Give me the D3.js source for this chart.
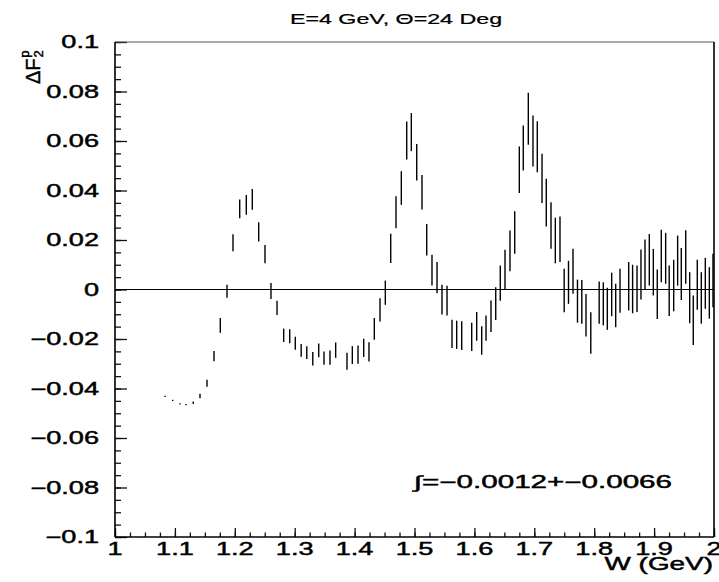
<!DOCTYPE html>
<html>
<head>
<meta charset="utf-8">
<script src="https://cdn.jsdelivr.net/npm/d3@7"></script>
<style>
  html, body { margin: 0; padding: 0; background: #fff; }
  svg { display: block; }
  text { font-family: "Liberation Sans", Arial, Helvetica, sans-serif; fill: #000; stroke: #000; stroke-width: 0.45px; }
</style>
</head>
<body>
<svg id="chart" width="719" height="582"></svg>
<script>
// ---------------- data ----------------
const W = [
  1.0835, 1.0963, 1.1085, 1.1185, 1.1307, 1.1419, 1.1536, 1.1653, 1.1758, 1.1870,
  1.1970, 1.2082, 1.2192, 1.2292, 1.2399, 1.2504, 1.2604, 1.2705, 1.2816, 1.2917,
  1.3010, 1.3108, 1.3202, 1.3302, 1.3401, 1.3489, 1.3589, 1.3684, 1.3873, 1.3962,
  1.4057, 1.4152, 1.4240, 1.4329, 1.4424, 1.4513, 1.4603, 1.4691, 1.4780, 1.4870,
  1.4947, 1.5037, 1.5125, 1.5204, 1.5292, 1.5376, 1.5459, 1.5543, 1.5626, 1.5704,
  1.5788, 1.5955, 1.6038, 1.6122, 1.6194, 1.6277, 1.6356, 1.6432, 1.6511, 1.6594,
  1.6673, 1.6750, 1.6816, 1.6900, 1.6978, 1.7050, 1.7129, 1.7200, 1.7279, 1.7351,
  1.7429, 1.7499, 1.7571, 1.7646, 1.7721, 1.7793, 1.7863, 1.7943, 1.8083, 1.8152,
  1.8219, 1.8292, 1.8359, 1.8431, 1.8576, 1.8641, 1.8715, 1.8781, 1.8848, 1.8920,
  1.8987, 1.9053, 1.9120, 1.9193, 1.9252, 1.9327, 1.9393, 1.9454, 1.9528, 1.9594,
  1.9654, 1.9721, 1.9788, 1.9855, 1.9922, 1.9983
];
const dF2 = [
  -0.0432, -0.0448, -0.0462, -0.0465, -0.0458, -0.0430, -0.0379, -0.0269, -0.0145, -0.0007,
   0.0189,  0.0326,  0.0342,  0.0364,  0.0233,  0.0143, -0.0006, -0.0074, -0.0185, -0.0189,
  -0.0217, -0.0246, -0.0255, -0.0280, -0.0246, -0.0277, -0.0275, -0.0245, -0.0290, -0.0265,
  -0.0263, -0.0236, -0.0252, -0.0159, -0.0082, -0.0013,  0.0166,  0.0312,  0.0410,  0.0602,
   0.0636,  0.0514,  0.0393,  0.0201,  0.0078,  0.0048, -0.0041, -0.0045, -0.0179, -0.0183,
  -0.0186, -0.0191, -0.0149, -0.0206, -0.0156, -0.0108, -0.0057,  0.0026,  0.0080,  0.0156,
   0.0230,  0.0484,  0.0572,  0.0690,  0.0600,  0.0577,  0.0449,  0.0351,  0.0259,  0.0198,
   0.0203, -0.0004,  0.0029,  0.0074, -0.0047, -0.0050, -0.0104, -0.0176, -0.0053, -0.0058,
  -0.0078, -0.0020, -0.0065, -0.0005,  0.0013,  0.0002,  0.0003,  0.0061,  0.0100,  0.0120,
   0.0070, -0.0019,  0.0135,  0.0126, -0.0005,  0.0016,  0.0117,  0.0063,  0.0131, -0.0033,
  -0.0124,  0.0019, -0.0034,  0.0025, -0.0014,  0.0036
];
const dF2err = [
  0.0002, 0.0002, 0.0002, 0.0002, 0.0005, 0.0009, 0.0014, 0.0021, 0.0030, 0.0026,
  0.0034, 0.0038, 0.0040, 0.0042, 0.0039, 0.0037, 0.0032, 0.0029, 0.0027, 0.0028,
  0.0026, 0.0026, 0.0026, 0.0027, 0.0028, 0.0027, 0.0029, 0.0031, 0.0034, 0.0036,
  0.0037, 0.0037, 0.0039, 0.0044, 0.0047, 0.0049, 0.0059, 0.0065, 0.0068, 0.0077,
  0.0077, 0.0074, 0.0070, 0.0064, 0.0062, 0.0063, 0.0060, 0.0060, 0.0057, 0.0057,
  0.0058, 0.0057, 0.0058, 0.0058, 0.0051, 0.0064, 0.0066, 0.0071, 0.0081, 0.0082,
  0.0086, 0.0094, 0.0091, 0.0105, 0.0103, 0.0103, 0.0099, 0.0096, 0.0094, 0.0092,
  0.0092, 0.0088, 0.0087, 0.0091, 0.0087, 0.0088, 0.0086, 0.0084, 0.0085, 0.0087,
  0.0085, 0.0088, 0.0088, 0.0089, 0.0098, 0.0098, 0.0094, 0.0101, 0.0102, 0.0104,
  0.0094, 0.0100, 0.0106, 0.0103, 0.0102, 0.0104, 0.0101, 0.0105, 0.0108, 0.0103,
  0.0100, 0.0101, 0.0104, 0.0103, 0.0104, 0.0108
];
const xMajorTicks = [1, 1.1, 1.2, 1.3, 1.4, 1.5, 1.6, 1.7, 1.8, 1.9, 2];
const xTickLabels = ["1", "1.1", "1.2", "1.3", "1.4", "1.5", "1.6", "1.7", "1.8", "1.9", "2"];
const yMajorTicks = [0.1, 0.08, 0.06, 0.04, 0.02, 0, -0.02, -0.04, -0.06, -0.08, -0.1];
const yTickLabels = ["0.1", "0.08", "0.06", "0.04", "0.02", "0", "\u22120.02", "\u22120.04", "\u22120.06", "\u22120.08", "\u22120.1"];
const titleText = "E=4 GeV, \u0398=24 Deg";
const xLabelText = "W (GeV)";
const integralText = "\u222B=\u22120.0012+\u22120.0066";

// ---------------- layout ----------------
const pLeft = 115, pRight = 714, pTop = 42, pBottom = 537;
const SX = 1.55; // wide PAW-like lettering
const svg = d3.select("#chart");

const x = d3.scaleLinear().domain([1, 2]).range([pLeft, pRight]);
const y = d3.scaleLinear().domain([-0.1, 0.1]).range([pBottom, pTop]);

function wideText(str, px, py, size, anchor) {
  return svg.append("text")
    .attr("transform", `translate(${px},${py}) scale(${SX},1)`)
    .attr("text-anchor", anchor)
    .attr("font-size", size)
    .text(str);
}

// minor / major ticks (inside the frame)
const xMinor = d3.range(0, 41).map(i => 1 + i * 0.025);
const yMinor = d3.range(0, 41).map(i => -0.1 + i * 0.005);

const gxMin = svg.append("g").attr("transform", `translate(0,${pBottom})`)
  .call(d3.axisBottom(x).tickValues(xMinor).tickSizeInner(-4.5).tickSizeOuter(0).tickFormat(""));
const gxMaj = svg.append("g").attr("transform", `translate(0,${pBottom})`)
  .call(d3.axisBottom(x).tickValues(xMajorTicks).tickSizeInner(-9).tickSizeOuter(0).tickFormat(""));
const gyMin = svg.append("g").attr("transform", `translate(${pLeft},0)`)
  .call(d3.axisLeft(y).tickValues(yMinor).tickSizeInner(-6).tickSizeOuter(0).tickFormat(""));
const gyMaj = svg.append("g").attr("transform", `translate(${pLeft},0)`)
  .call(d3.axisLeft(y).tickValues(yMajorTicks).tickSizeInner(-12).tickSizeOuter(0).tickFormat(""));
[gxMin, gxMaj, gyMin, gyMaj].forEach(g => {
  g.select(".domain").remove();
  g.selectAll(".tick line").attr("stroke", "#111").attr("stroke-width", 1.3);
});

// zero line
svg.append("line")
  .attr("x1", x(1)).attr("x2", x(2)).attr("y1", y(0)).attr("y2", y(0))
  .attr("stroke", "#000").attr("stroke-width", 1.2);

// error bars
const pts = W.map((w, i) => ({ w, v: dF2[i], e: dF2err[i] }));
svg.append("g").selectAll("line").data(pts).join("line")
  .attr("x1", d => x(d.w)).attr("x2", d => x(d.w))
  .attr("y1", d => Math.min(y(d.v + d.e), y(d.v) - 0.6))
  .attr("y2", d => Math.max(y(d.v - d.e), y(d.v) + 0.6))
  .attr("stroke", "#000").attr("stroke-width", 1.4);

// frame
svg.append("line").attr("x1", pLeft).attr("x2", pRight).attr("y1", pTop).attr("y2", pTop)
  .attr("stroke", "#555").attr("stroke-width", 1.2);
svg.append("line").attr("x1", pLeft).attr("x2", pRight).attr("y1", pBottom).attr("y2", pBottom)
  .attr("stroke", "#000").attr("stroke-width", 1.6);
svg.append("line").attr("x1", pLeft).attr("x2", pLeft).attr("y1", pTop).attr("y2", pBottom)
  .attr("stroke", "#000").attr("stroke-width", 1.6);
svg.append("line").attr("x1", pRight).attr("x2", pRight).attr("y1", pTop).attr("y2", pBottom)
  .attr("stroke", "#000").attr("stroke-width", 1.6);

// tick labels
xMajorTicks.forEach((v, i) => wideText(xTickLabels[i], x(v), 555, 17.5, "middle"));
yMajorTicks.forEach((v, i) => wideText(yTickLabels[i], 99, y(v) + 6.2, 17.5, "end"));

// title
wideText(titleText, 396, 23.5, 15, "middle").style("stroke-width", "0.25px");

// x axis label
wideText(xLabelText, 713, 570, 18, "end");

// integral annotation
svg.append("text")
  .attr("x", 414).attr("y", 488)
  .attr("font-size", 17.5)
  .attr("textLength", 258).attr("lengthAdjust", "spacingAndGlyphs")
  .text(integralText);

// y axis label: ΔF with sub 2 and sup p, rotated
const yl = svg.append("text")
  .attr("transform", "translate(40,84) rotate(-90)")
  .attr("font-size", 20)
  .attr("text-anchor", "start");
yl.append("tspan").text("\u0394F");
yl.append("tspan").attr("font-size", 13).attr("dy", 3).attr("dx", 1).text("2");
yl.append("tspan").attr("font-size", 13).attr("dy", -14).attr("dx", -7.5).text("p");
</script>
</body>
</html>
